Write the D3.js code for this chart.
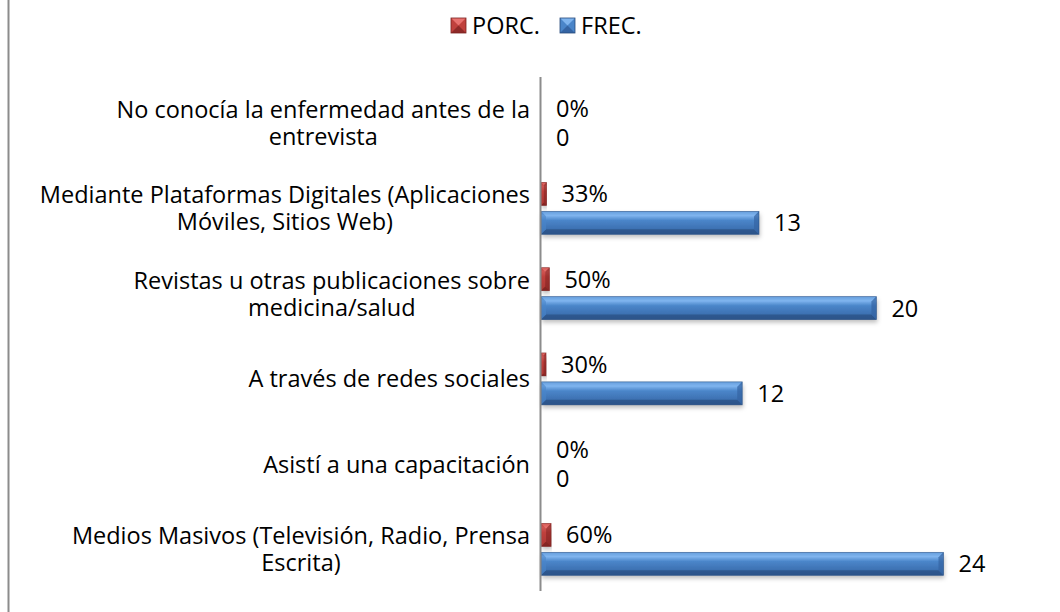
<!DOCTYPE html>
<html>
<head>
<meta charset="utf-8">
<script src="https://cdn.jsdelivr.net/npm/d3@7"></script>
<style>
  body { margin: 0; background: #fff; }
  svg { display: block; font-family: "Open Sans", "Noto Sans", sans-serif; }
</style>
</head>
<body>
<svg id="chart"></svg>
<script>
// datos (de arriba hacia abajo)
const categories = [
  "No conocía la enfermedad antes de la\nentrevista",
  "Mediante Plataformas Digitales (Aplicaciones\nMóviles, Sitios Web)",
  "Revistas u otras publicaciones sobre\nmedicina/salud",
  "A través de redes sociales",
  "Asistí a una capacitación",
  "Medios Masivos (Televisión, Radio, Prensa\nEscrita)"
];
const seriesNames = ["PORC.", "FREC."];
const porc = [0, 0.33, 0.5, 0.3, 0, 0.6];
const frec = [0, 13, 20, 12, 0, 24];

const W = 1060, H = 612;
const fs = 23.5;
const svg = d3.select("#chart").attr("width", W).attr("height", H);

// dégradés et ombre
const defs = svg.append("defs");
const palettes = {
  "PORC.": { light: "#e8726f", mid: "#c0413d", dark: "#8e2a28", edge: "#7a2220" },
  "FREC.": { light: "#7fb4ee", mid: "#4a85c9", dark: "#3564a3", edge: "#26497a" }
};
Object.entries(palettes).forEach(([k, p], i) => {
  const g = defs.append("linearGradient").attr("id", "grad" + i)
    .attr("x1", 0).attr("y1", 0).attr("x2", 0).attr("y2", 1);
  g.append("stop").attr("offset", "0%").attr("stop-color", p.mid);
  g.append("stop").attr("offset", "18%").attr("stop-color", p.light);
  g.append("stop").attr("offset", "40%").attr("stop-color", p.mid);
  g.append("stop").attr("offset", "100%").attr("stop-color", p.dark);
});
const f = defs.append("filter").attr("id", "shadow")
  .attr("x", "-5%").attr("y", "-30%").attr("width", "110%").attr("height", "180%");
f.append("feDropShadow").attr("dx", 1).attr("dy", 3).attr("stdDeviation", 2)
  .attr("flood-color", "#000").attr("flood-opacity", 0.25);

// bordure gauche du cadre
svg.append("line").attr("x1", 8.5).attr("x2", 8.5).attr("y1", 0).attr("y2", H)
  .attr("stroke", "#8c8c8c").attr("stroke-width", 2);

// échelles
const y0 = d3.scaleBand().domain(categories).range([80.5, 592]).padding(0);
const y1 = d3.scaleBand().domain(seriesNames).range([0, y0.bandwidth()])
  .paddingInner(0.207).paddingOuter(0.575);
const x = d3.scaleLinear().domain([0, 26]).range([541, 541 + 26 * 16.77]);

const rows = categories.map((c, i) => ({ cat: c, values: [
  { key: "PORC.", v: porc[i], label: Math.round(porc[i] * 100) + "%" },
  { key: "FREC.", v: frec[i], label: String(frec[i]) }
]}));

// barres
function bevelBar(g, x0, x1, yTop, h, p, gi) {
  const w = x1 - x0;
  if (w <= 0.5) return;
  const b = Math.min(5, w / 2, h / 3);
  g.append("rect").attr("x", x0).attr("y", yTop).attr("width", w).attr("height", h)
    .attr("fill", `url(#grad${gi})`).attr("filter", "url(#shadow)");
  // bevel: haut clair, bas foncé, côtés
  g.append("polygon").attr("points", [[x0, yTop], [x1, yTop], [x1 - b, yTop + b], [x0 + b, yTop + b]].join(" "))
    .attr("fill", p.light).attr("opacity", 0.55);
  g.append("polygon").attr("points", [[x0, yTop + h], [x1, yTop + h], [x1 - b, yTop + h - b], [x0 + b, yTop + h - b]].join(" "))
    .attr("fill", p.edge).attr("opacity", 0.6);
  g.append("polygon").attr("points", [[x1, yTop], [x1, yTop + h], [x1 - b, yTop + h - b], [x1 - b, yTop + b]].join(" "))
    .attr("fill", p.dark).attr("opacity", 0.7);
  g.append("polygon").attr("points", [[x0, yTop], [x0, yTop + h], [x0 + b, yTop + h - b], [x0 + b, yTop + b]].join(" "))
    .attr("fill", p.mid).attr("opacity", 0.6);
  g.append("rect").attr("x", x0).attr("y", yTop).attr("width", w).attr("height", h)
    .attr("fill", "none").attr("stroke", p.edge).attr("stroke-width", 0.8).attr("stroke-opacity", 0.6);
}

const groups = svg.selectAll("g.cat").data(rows).enter().append("g")
  .attr("class", "cat").attr("transform", d => `translate(0,${y0(d.cat)})`);

groups.each(function(d) {
  const g = d3.select(this);
  d.values.forEach(s => {
    const gi = seriesNames.indexOf(s.key);
    bevelBar(g, x(0), x(s.v), y1(s.key), y1.bandwidth(), palettes[s.key], gi);
    g.append("text")
      .attr("x", x(s.v) + 15)
      .attr("y", y1(s.key) + y1.bandwidth() / 2)
      .attr("dy", "0.36em")
      .attr("font-size", fs).attr("fill", "#000")
      .text(s.label);
  });
});

// axe vertical
svg.append("line").attr("x1", 540.5).attr("x2", 540.5).attr("y1", 77).attr("y2", 591)
  .attr("stroke", "#8c8c8c").attr("stroke-width", 2);

// étiquettes de catégories : bloc aligné à droite, lignes centrées entre elles
const labelRight = 530;
svg.selectAll("text.cat").data(categories).enter().append("text")
  .attr("class", "cat")
  .attr("text-anchor", "middle")
  .attr("font-size", fs).attr("fill", "#000")
  .each(function(c) {
    const lines = c.split("\n");
    const t = d3.select(this);
    const cy = y0(c) + y0.bandwidth() / 2;
    const lh = 27;
    const spans = lines.map((ln, i) => t.append("tspan")
      .attr("y", cy + (i - (lines.length - 1) / 2) * lh)
      .attr("dy", "0.36em")
      .text(ln));
    const maxW = d3.max(spans, s => s.node().getComputedTextLength());
    spans.forEach(s => s.attr("x", labelRight - maxW / 2));
  });

// légende
const legX = [451, 560];
seriesNames.forEach((s, i) => {
  const p = palettes[s];
  const lg = svg.append("g").attr("transform", `translate(${legX[i]},18)`);
  const sz = 15;
  lg.append("rect").attr("width", sz).attr("height", sz).attr("fill", p.mid);
  lg.append("polygon").attr("points", [[0, 0], [sz, 0], [sz / 2, sz / 2]].join(" ")).attr("fill", p.light);
  lg.append("polygon").attr("points", [[0, sz], [sz, sz], [sz / 2, sz / 2]].join(" ")).attr("fill", p.dark);
  lg.append("rect").attr("width", sz).attr("height", sz).attr("fill", "none").attr("stroke", p.edge).attr("stroke-width", 0.8);
  lg.append("text").attr("x", sz + 6).attr("y", sz / 2).attr("dy", "0.36em")
    .attr("font-size", fs).text(s);
});
</script>
</body>
</html>
